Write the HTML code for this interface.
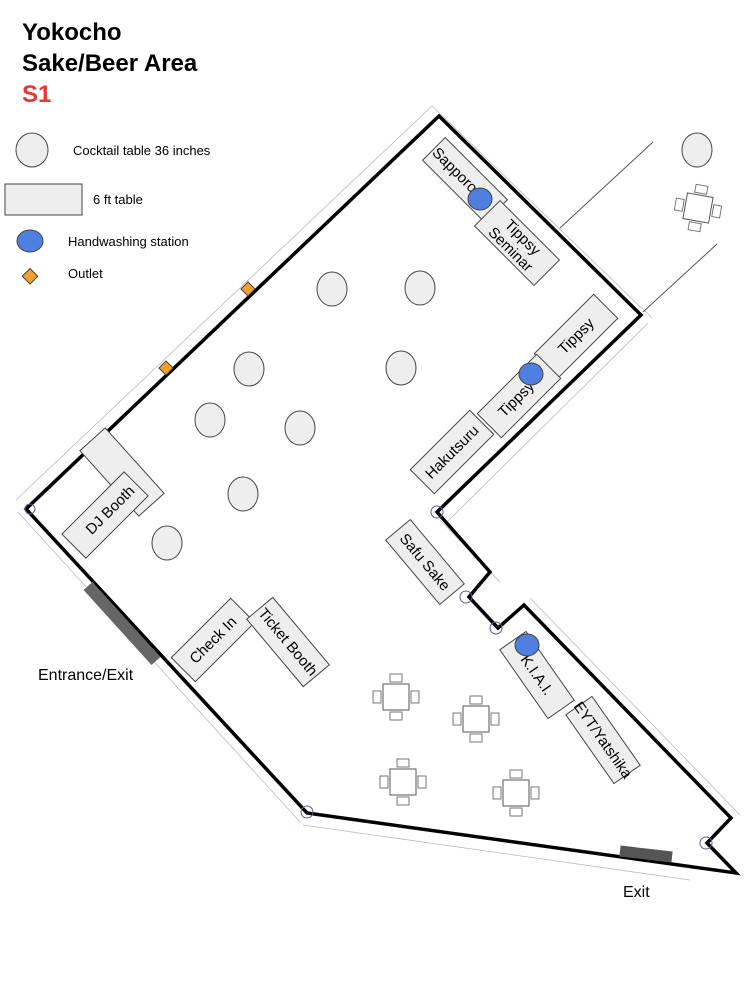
<!DOCTYPE html>
<html><head><meta charset="utf-8"><style>
html,body{margin:0;padding:0;background:#fff;width:744px;height:998px;overflow:hidden}
svg{display:block;font-family:"Liberation Sans",sans-serif}
</style></head><body>
<svg width="744" height="998" viewBox="0 0 744 998" xmlns="http://www.w3.org/2000/svg">
<defs>
<g id="set">
<rect x="-13" y="-13" width="26" height="26" fill="#fff" stroke="#555" stroke-width="1"/>
<rect x="-6" y="-23" width="12" height="8" fill="#fff" stroke="#777"/>
<rect x="-6" y="15" width="12" height="8" fill="#fff" stroke="#777"/>
<rect x="-23" y="-6" width="8" height="12" fill="#fff" stroke="#777"/>
<rect x="15" y="-6" width="8" height="12" fill="#fff" stroke="#777"/>
</g>
</defs>
<text x="22" y="40" font-size="24" font-weight="bold">Yokocho</text>
<text x="22" y="71" font-size="24" font-weight="bold">Sake/Beer Area</text>
<text x="22" y="102" font-size="24" font-weight="bold" fill="#e53935">S1</text>

<ellipse cx="32" cy="150" rx="16" ry="17" fill="#eee" stroke="#444"/>
<text x="73" y="155" font-size="13">Cocktail table 36 inches</text>
<rect x="5" y="184" width="77" height="31" fill="#eee" stroke="#444"/>
<text x="93" y="204" font-size="13">6 ft table</text>
<ellipse cx="30" cy="241" rx="13" ry="11" fill="#4f7fe0" stroke="#444"/>
<text x="68" y="246" font-size="13">Handwashing station</text>
<rect x="24" y="271" width="11" height="11" fill="#f0a030" stroke="#444" transform="rotate(45 30 277)"/>
<text x="68" y="278" font-size="13">Outlet</text>

<g stroke="#bbb" stroke-width="0.8" fill="none">
<path d="M16,500 L432,106 L652,318"/>
<path d="M18,512 L300,822"/>
<path d="M303,825 L690,880"/>
<path d="M447,522 L648,323"/>
<path d="M440,520 L500,582"/>
<path d="M530,598 L740,815"/>
</g>
<g stroke="#555" stroke-width="1" fill="none">
<path d="M560,228 L653,142"/><path d="M643,312 L717,244"/>
</g>

<path d="M439,116 L641,315 L437,512 L490,572 L469,597 L498,628 L524,605 L731,818 L707,843 L736,873 L307,813 L26,509 Z" fill="none" stroke="#000" stroke-width="3.5" stroke-linejoin="miter"/>
<g fill="none" stroke="#5a5aa0" stroke-width="1">
<circle cx="437" cy="512" r="6"/><circle cx="466" cy="597" r="6"/><circle cx="496" cy="628" r="6"/><circle cx="307" cy="812" r="6"/><circle cx="706" cy="843" r="6"/><circle cx="30" cy="509" r="5"/>
</g>
<line x1="88" y1="586" x2="156" y2="661" stroke="#666" stroke-width="12"/>
<line x1="620" y1="851" x2="672" y2="857" stroke="#555" stroke-width="11"/>
<text x="38" y="680" font-size="16">Entrance/Exit</text>
<text x="623" y="897" font-size="16">Exit</text>

<rect x="243" y="284" width="10" height="10" fill="#f0a030" stroke="#444" transform="rotate(45 248 289)"/>
<rect x="161" y="363" width="10" height="10" fill="#f0a030" stroke="#444" transform="rotate(45 166 368)"/>

<g fill="#eee" stroke="#444">
<ellipse cx="332" cy="289" rx="15" ry="17"/><ellipse cx="420" cy="288" rx="15" ry="17"/>
<ellipse cx="249" cy="369" rx="15" ry="17"/><ellipse cx="401" cy="368" rx="15" ry="17"/>
<ellipse cx="210" cy="420" rx="15" ry="17"/><ellipse cx="300" cy="428" rx="15" ry="17"/>
<ellipse cx="243" cy="494" rx="15" ry="17"/><ellipse cx="167" cy="543" rx="15" ry="17"/>
<ellipse cx="697" cy="150" rx="15" ry="17"/>
</g>

<g fill="#eee" stroke="#444">
<g transform="translate(465,180) rotate(45)"><rect x="-44" y="-16" width="88" height="32"/></g>
<g transform="translate(517,243) rotate(45)"><rect x="-42" y="-18" width="84" height="36"/></g>
<g transform="translate(576,336) rotate(-45)"><rect x="-42" y="-17" width="84" height="34"/></g>
<g transform="translate(519,396) rotate(-45)"><rect x="-42" y="-17" width="84" height="34"/></g>
<g transform="translate(452,452) rotate(-45)"><rect x="-42" y="-17" width="84" height="34"/></g>
<g transform="translate(425,562) rotate(50)"><rect x="-42" y="-16" width="84" height="32"/></g>
<g transform="translate(213,640) rotate(-45)"><rect x="-42" y="-17" width="84" height="34"/></g>
<g transform="translate(288,642) rotate(50)"><rect x="-44" y="-17" width="88" height="34"/></g>
<g transform="translate(537,675) rotate(55)"><rect x="-42" y="-16" width="84" height="32"/></g>
<g transform="translate(603,740) rotate(55)"><rect x="-42" y="-16" width="84" height="32"/></g>
<g transform="translate(122,472) rotate(48)"><rect x="-44" y="-17" width="88" height="34"/></g>
<g transform="translate(105,515) rotate(-45)"><rect x="-44" y="-17" width="88" height="34"/></g>
</g>
<g font-size="15" fill="#000" text-anchor="middle">
<text transform="translate(455,170) rotate(45)" y="5">Sapporo</text>
<text transform="translate(517,243) rotate(45)" y="-3">Tippsy</text>
<text transform="translate(517,243) rotate(45)" y="14">Seminar</text>
<text transform="translate(576,336) rotate(-45)" y="5">Tippsy</text>
<text transform="translate(516,399) rotate(-45)" y="5">Tippsy</text>
<text transform="translate(452,452) rotate(-45)" y="5">Hakutsuru</text>
<text transform="translate(425,562) rotate(50)" y="5">Safu Sake</text>
<text transform="translate(213,640) rotate(-45)" y="5">Check In</text>
<text transform="translate(288,642) rotate(50)" y="5">Ticket Booth</text>
<text transform="translate(537,675) rotate(55)" y="5">K.I.A.I.</text>
<text transform="translate(603,740) rotate(55)" y="5">EYT/Yatshika</text>
<text transform="translate(110,510) rotate(-45)" y="5">DJ Booth</text>
</g>

<g fill="#4f7fe0" stroke="#444">
<ellipse cx="480" cy="199" rx="12" ry="11"/><ellipse cx="531" cy="374" rx="12" ry="11"/><ellipse cx="527" cy="645" rx="12" ry="11"/>
</g>

<use href="#set" transform="translate(396,697)"/>
<use href="#set" transform="translate(476,719)"/>
<use href="#set" transform="translate(403,782)"/>
<use href="#set" transform="translate(516,793)"/>
<use href="#set" transform="translate(698,208) rotate(10)"/>
</svg>
</body></html>
